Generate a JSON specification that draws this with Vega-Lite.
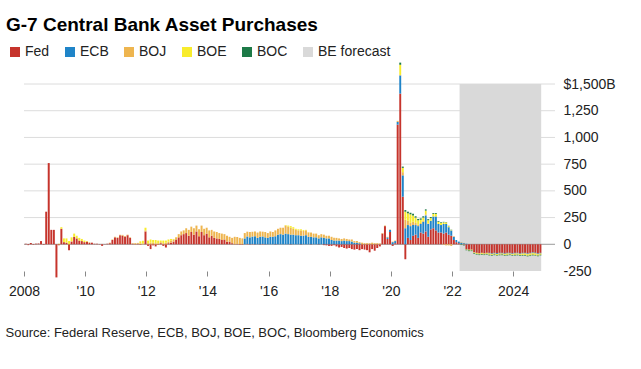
{
"$schema":"https://vega.github.io/schema/vega-lite/v6.json",
"width":531,"height":187,
"autosize":{"type":"none"},
"padding":{"left":24,"top":84,"right":86,"bottom":98},
"background":"white",
"config":{"view":{"stroke":null},"font":"Liberation Sans"},
"title":{"text":"G-7 Central Bank Asset Purchases","anchor":"start","frame":"group","dx":-18,"offset":-5,"fontSize":19,"fontWeight":"bold","color":"#000","baseline":"alphabetic"},
"datasets":{
"fc":[{"start":"2022-04-01","end":"2024-12-01","lo":-250,"hi":1500,"name":"BE forecast"}],
"grid":[{"v":250},{"v":500},{"v":750},{"v":1000},{"v":1250},{"v":1500}],
"zero":[{"v":0}],
"cb":[
{"d":"2008-01","Fed":5,"ECB":0,"BOJ":0,"BOE":0,"BOC":0},
{"d":"2008-02","Fed":-8,"ECB":0,"BOJ":0,"BOE":0,"BOC":0},
{"d":"2008-03","Fed":12,"ECB":0,"BOJ":0,"BOE":0,"BOC":0},
{"d":"2008-04","Fed":-5,"ECB":0,"BOJ":0,"BOE":0,"BOC":0},
{"d":"2008-05","Fed":6,"ECB":0,"BOJ":0,"BOE":0,"BOC":0},
{"d":"2008-06","Fed":8,"ECB":0,"BOJ":0,"BOE":0,"BOC":0},
{"d":"2008-07","Fed":30,"ECB":0,"BOJ":0,"BOE":0,"BOC":0},
{"d":"2008-08","Fed":-5,"ECB":0,"BOJ":0,"BOE":0,"BOC":0},
{"d":"2008-09","Fed":305,"ECB":0,"BOJ":0,"BOE":0,"BOC":0},
{"d":"2008-10","Fed":760,"ECB":0,"BOJ":0,"BOE":0,"BOC":0},
{"d":"2008-11","Fed":135,"ECB":0,"BOJ":0,"BOE":0,"BOC":0},
{"d":"2008-12","Fed":135,"ECB":0,"BOJ":0,"BOE":0,"BOC":0},
{"d":"2009-01","Fed":-310,"ECB":0,"BOJ":0,"BOE":0,"BOC":0},
{"d":"2009-02","Fed":-10,"ECB":0,"BOJ":0,"BOE":5,"BOC":0},
{"d":"2009-03","Fed":145,"ECB":0,"BOJ":0,"BOE":15,"BOC":0},
{"d":"2009-04","Fed":20,"ECB":0,"BOJ":0,"BOE":35,"BOC":0},
{"d":"2009-05","Fed":15,"ECB":0,"BOJ":0,"BOE":40,"BOC":0},
{"d":"2009-06","Fed":-55,"ECB":0,"BOJ":0,"BOE":30,"BOC":0},
{"d":"2009-07","Fed":25,"ECB":0,"BOJ":5,"BOE":35,"BOC":0},
{"d":"2009-08","Fed":70,"ECB":0,"BOJ":0,"BOE":30,"BOC":0},
{"d":"2009-09","Fed":55,"ECB":0,"BOJ":0,"BOE":25,"BOC":0},
{"d":"2009-10","Fed":35,"ECB":0,"BOJ":0,"BOE":25,"BOC":0},
{"d":"2009-11","Fed":30,"ECB":0,"BOJ":0,"BOE":20,"BOC":0},
{"d":"2009-12","Fed":20,"ECB":0,"BOJ":0,"BOE":15,"BOC":0},
{"d":"2010-01","Fed":25,"ECB":0,"BOJ":0,"BOE":5,"BOC":0},
{"d":"2010-02","Fed":15,"ECB":0,"BOJ":0,"BOE":3,"BOC":0},
{"d":"2010-03","Fed":15,"ECB":0,"BOJ":0,"BOE":0,"BOC":0},
{"d":"2010-04","Fed":5,"ECB":0,"BOJ":0,"BOE":0,"BOC":0},
{"d":"2010-05","Fed":5,"ECB":0,"BOJ":0,"BOE":0,"BOC":0},
{"d":"2010-06","Fed":-3,"ECB":0,"BOJ":0,"BOE":0,"BOC":0},
{"d":"2010-07","Fed":-15,"ECB":0,"BOJ":0,"BOE":0,"BOC":0},
{"d":"2010-08","Fed":2,"ECB":0,"BOJ":0,"BOE":0,"BOC":0},
{"d":"2010-09","Fed":5,"ECB":0,"BOJ":0,"BOE":0,"BOC":0},
{"d":"2010-10","Fed":10,"ECB":0,"BOJ":5,"BOE":0,"BOC":0},
{"d":"2010-11","Fed":40,"ECB":0,"BOJ":5,"BOE":0,"BOC":0},
{"d":"2010-12","Fed":65,"ECB":0,"BOJ":5,"BOE":0,"BOC":0},
{"d":"2011-01","Fed":60,"ECB":0,"BOJ":5,"BOE":0,"BOC":0},
{"d":"2011-02","Fed":85,"ECB":0,"BOJ":5,"BOE":0,"BOC":0},
{"d":"2011-03","Fed":80,"ECB":0,"BOJ":8,"BOE":0,"BOC":0},
{"d":"2011-04","Fed":70,"ECB":0,"BOJ":8,"BOE":0,"BOC":0},
{"d":"2011-05","Fed":85,"ECB":0,"BOJ":5,"BOE":0,"BOC":0},
{"d":"2011-06","Fed":60,"ECB":0,"BOJ":5,"BOE":0,"BOC":0},
{"d":"2011-07","Fed":5,"ECB":0,"BOJ":5,"BOE":0,"BOC":0},
{"d":"2011-08","Fed":-3,"ECB":0,"BOJ":10,"BOE":0,"BOC":0},
{"d":"2011-09","Fed":5,"ECB":0,"BOJ":8,"BOE":0,"BOC":0},
{"d":"2011-10","Fed":-5,"ECB":0,"BOJ":8,"BOE":20,"BOC":0},
{"d":"2011-11","Fed":0,"ECB":0,"BOJ":8,"BOE":25,"BOC":0},
{"d":"2011-12","Fed":120,"ECB":0,"BOJ":10,"BOE":25,"BOC":0},
{"d":"2012-01","Fed":-15,"ECB":0,"BOJ":10,"BOE":25,"BOC":0},
{"d":"2012-02","Fed":-45,"ECB":0,"BOJ":15,"BOE":30,"BOC":0},
{"d":"2012-03","Fed":-10,"ECB":0,"BOJ":15,"BOE":25,"BOC":0},
{"d":"2012-04","Fed":-20,"ECB":0,"BOJ":10,"BOE":30,"BOC":0},
{"d":"2012-05","Fed":-5,"ECB":0,"BOJ":10,"BOE":25,"BOC":0},
{"d":"2012-06","Fed":10,"ECB":0,"BOJ":10,"BOE":15,"BOC":0},
{"d":"2012-07","Fed":-15,"ECB":0,"BOJ":10,"BOE":25,"BOC":0},
{"d":"2012-08","Fed":-30,"ECB":0,"BOJ":15,"BOE":20,"BOC":0},
{"d":"2012-09","Fed":10,"ECB":0,"BOJ":15,"BOE":20,"BOC":0},
{"d":"2012-10","Fed":15,"ECB":0,"BOJ":20,"BOE":15,"BOC":0},
{"d":"2012-11","Fed":25,"ECB":0,"BOJ":20,"BOE":5,"BOC":0},
{"d":"2012-12","Fed":45,"ECB":0,"BOJ":20,"BOE":3,"BOC":0},
{"d":"2013-01","Fed":65,"ECB":0,"BOJ":30,"BOE":0,"BOC":0},
{"d":"2013-02","Fed":85,"ECB":0,"BOJ":35,"BOE":0,"BOC":0},
{"d":"2013-03","Fed":95,"ECB":0,"BOJ":35,"BOE":0,"BOC":0},
{"d":"2013-04","Fed":105,"ECB":0,"BOJ":45,"BOE":0,"BOC":0},
{"d":"2013-05","Fed":80,"ECB":0,"BOJ":55,"BOE":0,"BOC":0},
{"d":"2013-06","Fed":115,"ECB":0,"BOJ":50,"BOE":0,"BOC":0},
{"d":"2013-07","Fed":90,"ECB":0,"BOJ":60,"BOE":0,"BOC":0},
{"d":"2013-08","Fed":120,"ECB":0,"BOJ":55,"BOE":0,"BOC":0},
{"d":"2013-09","Fed":75,"ECB":0,"BOJ":65,"BOE":0,"BOC":0},
{"d":"2013-10","Fed":115,"ECB":0,"BOJ":60,"BOE":0,"BOC":0},
{"d":"2013-11","Fed":85,"ECB":0,"BOJ":60,"BOE":0,"BOC":0},
{"d":"2013-12","Fed":100,"ECB":0,"BOJ":55,"BOE":0,"BOC":0},
{"d":"2014-01","Fed":65,"ECB":0,"BOJ":65,"BOE":0,"BOC":0},
{"d":"2014-02","Fed":80,"ECB":0,"BOJ":55,"BOE":0,"BOC":0},
{"d":"2014-03","Fed":60,"ECB":0,"BOJ":60,"BOE":0,"BOC":0},
{"d":"2014-04","Fed":55,"ECB":0,"BOJ":60,"BOE":0,"BOC":0},
{"d":"2014-05","Fed":50,"ECB":0,"BOJ":55,"BOE":0,"BOC":0},
{"d":"2014-06","Fed":40,"ECB":0,"BOJ":60,"BOE":0,"BOC":0},
{"d":"2014-07","Fed":45,"ECB":0,"BOJ":50,"BOE":0,"BOC":0},
{"d":"2014-08","Fed":25,"ECB":0,"BOJ":55,"BOE":0,"BOC":0},
{"d":"2014-09","Fed":25,"ECB":0,"BOJ":45,"BOE":0,"BOC":0},
{"d":"2014-10","Fed":10,"ECB":0,"BOJ":50,"BOE":0,"BOC":0},
{"d":"2014-11","Fed":-3,"ECB":0,"BOJ":70,"BOE":0,"BOC":0},
{"d":"2014-12","Fed":3,"ECB":0,"BOJ":65,"BOE":0,"BOC":0},
{"d":"2015-01","Fed":-5,"ECB":0,"BOJ":60,"BOE":0,"BOC":0},
{"d":"2015-02","Fed":-5,"ECB":0,"BOJ":55,"BOE":0,"BOC":0},
{"d":"2015-03","Fed":0,"ECB":55,"BOJ":50,"BOE":0,"BOC":0},
{"d":"2015-04","Fed":3,"ECB":70,"BOJ":45,"BOE":0,"BOC":0},
{"d":"2015-05","Fed":-3,"ECB":65,"BOJ":50,"BOE":0,"BOC":0},
{"d":"2015-06","Fed":2,"ECB":70,"BOJ":45,"BOE":0,"BOC":0},
{"d":"2015-07","Fed":-3,"ECB":75,"BOJ":45,"BOE":0,"BOC":0},
{"d":"2015-08","Fed":0,"ECB":60,"BOJ":50,"BOE":0,"BOC":0},
{"d":"2015-09","Fed":-3,"ECB":70,"BOJ":50,"BOE":0,"BOC":0},
{"d":"2015-10","Fed":3,"ECB":70,"BOJ":45,"BOE":0,"BOC":0},
{"d":"2015-11","Fed":-2,"ECB":65,"BOJ":50,"BOE":0,"BOC":0},
{"d":"2015-12","Fed":0,"ECB":60,"BOJ":45,"BOE":0,"BOC":0},
{"d":"2016-01","Fed":0,"ECB":70,"BOJ":50,"BOE":0,"BOC":0},
{"d":"2016-02","Fed":0,"ECB":70,"BOJ":45,"BOE":0,"BOC":0},
{"d":"2016-03","Fed":-3,"ECB":75,"BOJ":55,"BOE":0,"BOC":0},
{"d":"2016-04","Fed":0,"ECB":90,"BOJ":55,"BOE":0,"BOC":0},
{"d":"2016-05","Fed":0,"ECB":95,"BOJ":60,"BOE":0,"BOC":0},
{"d":"2016-06","Fed":0,"ECB":90,"BOJ":65,"BOE":0,"BOC":0},
{"d":"2016-07","Fed":0,"ECB":100,"BOJ":75,"BOE":5,"BOC":0},
{"d":"2016-08","Fed":0,"ECB":95,"BOJ":70,"BOE":10,"BOC":0},
{"d":"2016-09","Fed":-3,"ECB":90,"BOJ":65,"BOE":15,"BOC":0},
{"d":"2016-10","Fed":0,"ECB":90,"BOJ":55,"BOE":15,"BOC":0},
{"d":"2016-11","Fed":0,"ECB":85,"BOJ":50,"BOE":10,"BOC":0},
{"d":"2016-12","Fed":0,"ECB":85,"BOJ":45,"BOE":10,"BOC":0},
{"d":"2017-01","Fed":-3,"ECB":80,"BOJ":50,"BOE":10,"BOC":0},
{"d":"2017-02","Fed":0,"ECB":80,"BOJ":45,"BOE":8,"BOC":0},
{"d":"2017-03","Fed":0,"ECB":85,"BOJ":45,"BOE":5,"BOC":0},
{"d":"2017-04","Fed":0,"ECB":70,"BOJ":40,"BOE":3,"BOC":0},
{"d":"2017-05","Fed":-3,"ECB":70,"BOJ":40,"BOE":0,"BOC":0},
{"d":"2017-06","Fed":0,"ECB":65,"BOJ":35,"BOE":0,"BOC":0},
{"d":"2017-07","Fed":0,"ECB":65,"BOJ":35,"BOE":0,"BOC":0},
{"d":"2017-08","Fed":-3,"ECB":55,"BOJ":30,"BOE":0,"BOC":0},
{"d":"2017-09","Fed":0,"ECB":65,"BOJ":30,"BOE":0,"BOC":0},
{"d":"2017-10","Fed":-8,"ECB":60,"BOJ":30,"BOE":0,"BOC":0},
{"d":"2017-11","Fed":-10,"ECB":55,"BOJ":25,"BOE":0,"BOC":0},
{"d":"2017-12","Fed":-15,"ECB":55,"BOJ":25,"BOE":0,"BOC":0},
{"d":"2018-01","Fed":-15,"ECB":40,"BOJ":30,"BOE":0,"BOC":0},
{"d":"2018-02","Fed":-10,"ECB":35,"BOJ":25,"BOE":0,"BOC":0},
{"d":"2018-03","Fed":-20,"ECB":35,"BOJ":25,"BOE":0,"BOC":0},
{"d":"2018-04","Fed":-30,"ECB":35,"BOJ":20,"BOE":0,"BOC":0},
{"d":"2018-05","Fed":-25,"ECB":30,"BOJ":20,"BOE":0,"BOC":0},
{"d":"2018-06","Fed":-35,"ECB":35,"BOJ":20,"BOE":0,"BOC":0},
{"d":"2018-07","Fed":-40,"ECB":30,"BOJ":20,"BOE":0,"BOC":0},
{"d":"2018-08","Fed":-35,"ECB":30,"BOJ":15,"BOE":0,"BOC":0},
{"d":"2018-09","Fed":-45,"ECB":25,"BOJ":20,"BOE":0,"BOC":0},
{"d":"2018-10","Fed":-50,"ECB":15,"BOJ":15,"BOE":0,"BOC":0},
{"d":"2018-11","Fed":-45,"ECB":15,"BOJ":15,"BOE":0,"BOC":0},
{"d":"2018-12","Fed":-55,"ECB":10,"BOJ":10,"BOE":0,"BOC":0},
{"d":"2019-01","Fed":-45,"ECB":0,"BOJ":15,"BOE":0,"BOC":0},
{"d":"2019-02","Fed":-50,"ECB":0,"BOJ":10,"BOE":0,"BOC":0},
{"d":"2019-03","Fed":-55,"ECB":0,"BOJ":10,"BOE":0,"BOC":0},
{"d":"2019-04","Fed":-75,"ECB":0,"BOJ":10,"BOE":0,"BOC":0},
{"d":"2019-05","Fed":-45,"ECB":0,"BOJ":15,"BOE":0,"BOC":0},
{"d":"2019-06","Fed":-60,"ECB":0,"BOJ":10,"BOE":0,"BOC":0},
{"d":"2019-07","Fed":-35,"ECB":0,"BOJ":10,"BOE":0,"BOC":0},
{"d":"2019-08","Fed":-20,"ECB":0,"BOJ":8,"BOE":0,"BOC":0},
{"d":"2019-09","Fed":100,"ECB":0,"BOJ":5,"BOE":0,"BOC":0},
{"d":"2019-10","Fed":170,"ECB":0,"BOJ":5,"BOE":0,"BOC":0},
{"d":"2019-11","Fed":50,"ECB":15,"BOJ":5,"BOE":0,"BOC":0},
{"d":"2019-12","Fed":115,"ECB":20,"BOJ":3,"BOE":0,"BOC":0},
{"d":"2020-01","Fed":-15,"ECB":20,"BOJ":5,"BOE":0,"BOC":0},
{"d":"2020-02","Fed":10,"ECB":20,"BOJ":5,"BOE":0,"BOC":0},
{"d":"2020-03","Fed":1120,"ECB":25,"BOJ":10,"BOE":0,"BOC":0},
{"d":"2020-04","Fed":1410,"ECB":170,"BOJ":5,"BOE":95,"BOC":20},
{"d":"2020-05","Fed":445,"ECB":200,"BOJ":30,"BOE":40,"BOC":12},
{"d":"2020-06","Fed":-140,"ECB":150,"BOJ":80,"BOE":75,"BOC":15},
{"d":"2020-07","Fed":60,"ECB":120,"BOJ":40,"BOE":70,"BOC":15},
{"d":"2020-08","Fed":40,"ECB":130,"BOJ":30,"BOE":80,"BOC":15},
{"d":"2020-09","Fed":80,"ECB":100,"BOJ":30,"BOE":60,"BOC":15},
{"d":"2020-10","Fed":90,"ECB":90,"BOJ":20,"BOE":50,"BOC":12},
{"d":"2020-11","Fed":60,"ECB":110,"BOJ":15,"BOE":40,"BOC":12},
{"d":"2020-12","Fed":110,"ECB":80,"BOJ":10,"BOE":30,"BOC":12},
{"d":"2021-01","Fed":100,"ECB":110,"BOJ":10,"BOE":30,"BOC":12},
{"d":"2021-02","Fed":120,"ECB":150,"BOJ":10,"BOE":35,"BOC":12},
{"d":"2021-03","Fed":70,"ECB":120,"BOJ":5,"BOE":30,"BOC":10},
{"d":"2021-04","Fed":140,"ECB":80,"BOJ":0,"BOE":25,"BOC":10},
{"d":"2021-05","Fed":150,"ECB":110,"BOJ":0,"BOE":25,"BOC":8},
{"d":"2021-06","Fed":130,"ECB":130,"BOJ":0,"BOE":25,"BOC":8},
{"d":"2021-07","Fed":110,"ECB":80,"BOJ":0,"BOE":20,"BOC":7},
{"d":"2021-08","Fed":110,"ECB":70,"BOJ":0,"BOE":20,"BOC":6},
{"d":"2021-09","Fed":100,"ECB":90,"BOJ":-5,"BOE":15,"BOC":5},
{"d":"2021-10","Fed":110,"ECB":80,"BOJ":-10,"BOE":15,"BOC":3},
{"d":"2021-11","Fed":90,"ECB":70,"BOJ":-10,"BOE":10,"BOC":3},
{"d":"2021-12","Fed":80,"ECB":50,"BOJ":-15,"BOE":5,"BOC":2},
{"d":"2022-01","Fed":40,"ECB":30,"BOJ":5,"BOE":0,"BOC":0},
{"d":"2022-02","Fed":20,"ECB":20,"BOJ":0,"BOE":0,"BOC":0},
{"d":"2022-03","Fed":10,"ECB":15,"BOJ":0,"BOE":0,"BOC":0},
{"d":"2022-04","Fed":0,"ECB":15,"BOJ":5,"BOE":-2,"BOC":-5},
{"d":"2022-05","Fed":-5,"ECB":10,"BOJ":3,"BOE":-2,"BOC":-4},
{"d":"2022-06","Fed":-45,"ECB":5,"BOJ":0,"BOE":-5,"BOC":-6},
{"d":"2022-07","Fed":-50,"ECB":0,"BOJ":-3,"BOE":-5,"BOC":-6},
{"d":"2022-08","Fed":-50,"ECB":0,"BOJ":-2,"BOE":-6,"BOC":-6},
{"d":"2022-09","Fed":-75,"ECB":0,"BOJ":-3,"BOE":-6,"BOC":-6},
{"d":"2022-10","Fed":-80,"ECB":0,"BOJ":-2,"BOE":-8,"BOC":-6},
{"d":"2022-11","Fed":-85,"ECB":0,"BOJ":-2,"BOE":-8,"BOC":-6},
{"d":"2022-12","Fed":-80,"ECB":0,"BOJ":-3,"BOE":-10,"BOC":-6},
{"d":"2023-01","Fed":-85,"ECB":0,"BOJ":-2,"BOE":-8,"BOC":-6},
{"d":"2023-02","Fed":-80,"ECB":0,"BOJ":-2,"BOE":-8,"BOC":-6},
{"d":"2023-03","Fed":-80,"ECB":-5,"BOJ":-3,"BOE":-10,"BOC":-6},
{"d":"2023-04","Fed":-85,"ECB":-5,"BOJ":-2,"BOE":-8,"BOC":-6},
{"d":"2023-05","Fed":-80,"ECB":-5,"BOJ":-3,"BOE":-8,"BOC":-6},
{"d":"2023-06","Fed":-85,"ECB":-5,"BOJ":-2,"BOE":-10,"BOC":-6},
{"d":"2023-07","Fed":-80,"ECB":-5,"BOJ":-4,"BOE":-8,"BOC":-6},
{"d":"2023-08","Fed":-80,"ECB":-5,"BOJ":-3,"BOE":-8,"BOC":-6},
{"d":"2023-09","Fed":-85,"ECB":-5,"BOJ":-2,"BOE":-10,"BOC":-6},
{"d":"2023-10","Fed":-80,"ECB":-5,"BOJ":-4,"BOE":-10,"BOC":-6},
{"d":"2023-11","Fed":-80,"ECB":-5,"BOJ":-3,"BOE":-8,"BOC":-6},
{"d":"2023-12","Fed":-85,"ECB":-5,"BOJ":-2,"BOE":-8,"BOC":-6},
{"d":"2024-01","Fed":-80,"ECB":-5,"BOJ":-4,"BOE":-10,"BOC":-6},
{"d":"2024-02","Fed":-80,"ECB":-5,"BOJ":-3,"BOE":-10,"BOC":-6},
{"d":"2024-03","Fed":-85,"ECB":-5,"BOJ":-2,"BOE":-10,"BOC":-6},
{"d":"2024-04","Fed":-80,"ECB":-5,"BOJ":-4,"BOE":-12,"BOC":-6},
{"d":"2024-05","Fed":-80,"ECB":-5,"BOJ":-3,"BOE":-12,"BOC":-6},
{"d":"2024-06","Fed":-85,"ECB":-5,"BOJ":-2,"BOE":-15,"BOC":-6},
{"d":"2024-07","Fed":-80,"ECB":-5,"BOJ":-4,"BOE":-15,"BOC":-6},
{"d":"2024-08","Fed":-75,"ECB":-5,"BOJ":-3,"BOE":-15,"BOC":-6},
{"d":"2024-09","Fed":-80,"ECB":-5,"BOJ":-2,"BOE":-15,"BOC":-6},
{"d":"2024-10","Fed":-85,"ECB":-5,"BOJ":-4,"BOE":-12,"BOC":-6},
{"d":"2024-11","Fed":-80,"ECB":-5,"BOJ":-3,"BOE":-10,"BOC":-6}
]},
"layer":[
{"data":{"name":"grid"},"mark":{"type":"rule","color":"#dcdcdc","strokeWidth":1},
 "encoding":{"y":{"field":"v","type":"quantitative"}}},
{"data":{"name":"fc"},"mark":{"type":"rect"},
 "encoding":{
  "x":{"field":"start","type":"temporal"},
  "x2":{"field":"end"},
  "y":{"field":"lo","type":"quantitative"},
  "y2":{"field":"hi"},
  "color":{"field":"name","type":"nominal",
   "scale":{"domain":["Fed","ECB","BOJ","BOE","BOC","BE forecast"],"range":["#c6342c","#1f84c8","#eeb54f","#f8ec2c","#1d7a47","#d9d9d9"]},
   "legend":{"orient":"none","legendX":-16,"legendY":-39,"direction":"horizontal","title":null,"symbolType":"square","symbolSize":100,"symbolStrokeWidth":0,"labelFontSize":14,"labelColor":"#222","labelOffset":3,"columnPadding":13}}
 }},
{"data":{"name":"zero"},"mark":{"type":"rule","color":"#999","strokeWidth":1},
 "encoding":{"y":{"field":"v","type":"quantitative"}}},
{"data":{"name":"cb"},
 "transform":[{"fold":["Fed","ECB","BOJ","BOE","BOC"],"as":["bank","value"]}],
 "mark":{"type":"bar","binSpacing":0.6},
 "encoding":{
  "x":{"field":"d","timeUnit":"yearmonth","type":"temporal",
   "scale":{"domain":[{"year":2008,"month":1,"date":1},{"year":2025,"month":5,"date":15}],"nice":false},
   "axis":{"values":[{"year":2008,"month":1,"date":1},{"year":2010,"month":1,"date":1},{"year":2012,"month":1,"date":1},{"year":2014,"month":1,"date":1},{"year":2016,"month":1,"date":1},{"year":2018,"month":1,"date":1},{"year":2020,"month":1,"date":1},{"year":2022,"month":1,"date":1},{"year":2024,"month":1,"date":1}],
    "tickCount":20,
    "labelExpr":"year(datum.value)==2008||year(datum.value)==2024 ? timeFormat(datum.value,'%Y') : \"'\" + timeFormat(datum.value,'%y')",
    "grid":false,"domain":false,"tickColor":"#888","tickSize":5,"labelPadding":8,"labelFontSize":14,"labelColor":"#222","labelFlush":false,"labelOverlap":false,
    "title":"Source: Federal Reserve, ECB, BOJ, BOE, BOC, Bloomberg Economics","titleFontSize":13,"titleFontWeight":"normal","titleColor":"#222","titleAlign":"left","titleAnchor":"start","titleX":-19,"titleY":65,"titleBaseline":"alphabetic"}},
  "y":{"field":"value","type":"quantitative","stack":"zero",
   "scale":{"domain":[-250,1500],"nice":false,"zero":false},
   "axis":{"orient":"right","values":[-250,0,250,500,750,1000,1250,1500],"tickCount":20,
    "labelExpr":"datum.value > 1400 ? '$' + '1,500B' : datum.value < -200 ? '-250' : format(datum.value, ',d')",
    "grid":false,"ticks":false,"domain":false,"labelPadding":8,"labelAlign":"left","labelBaseline":"middle","labelFontSize":14,"labelColor":"#222","labelOverlap":false,"labelFlush":false,"labelBound":false,"title":null}},
  "color":{"field":"bank","type":"nominal"},
  "order":{"field":"bank","sort":"descending"}
 }}
]
}
